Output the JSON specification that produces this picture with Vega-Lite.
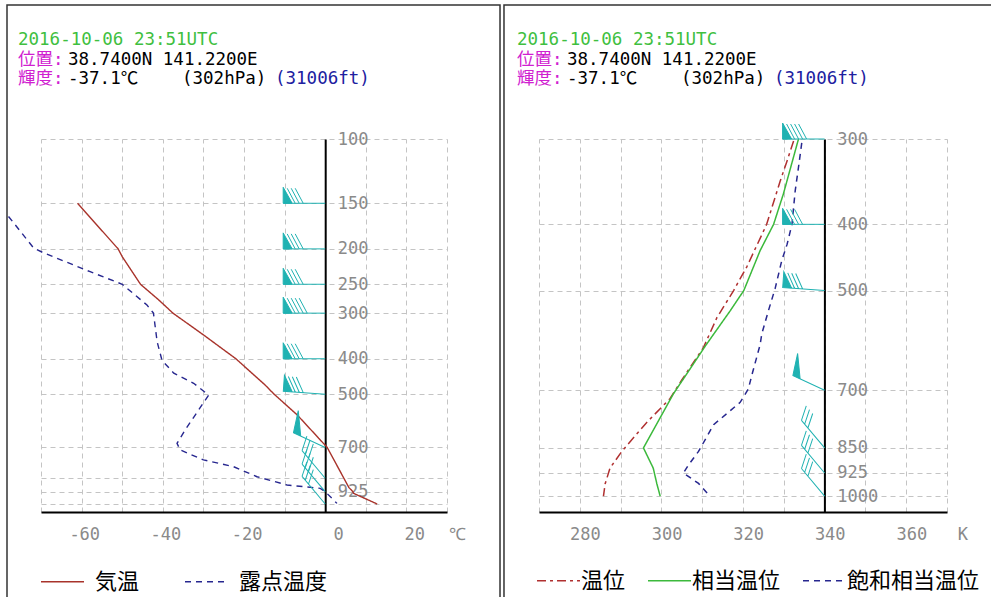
{
  "$schema": "https://vega.github.io/schema/vega-lite/v6.json",
  "width": 406,
  "height": 373,
  "autosize": {"type": "none"},
  "padding": {"left": 41, "top": 139, "right": 544, "bottom": 85},
  "background": "white",
  "config": {"view": {"stroke": null}},
  "datasets": {
    "frames": [{"panel": "L", "row": "all"}, {"panel": "R", "row": "all"}],
    "header": [
      {"panel": "L", "line": 1, "part": "time", "text": "2016-10-06 23:51UTC"},
      {"panel": "L", "line": 2, "part": "label", "text": "位置:"},
      {"panel": "L", "line": 2, "part": "value", "text": "38.7400N 141.2200E"},
      {"panel": "L", "line": 3, "part": "label", "text": "輝度:"},
      {"panel": "L", "line": 3, "part": "value", "text": "\u00a0-37.1℃"},
      {"panel": "L", "line": 3, "part": "pres", "text": "(302hPa)"},
      {"panel": "L", "line": 3, "part": "height", "text": "(31006ft)"},
      {"panel": "R", "line": 1, "part": "time", "text": "2016-10-06 23:51UTC"},
      {"panel": "R", "line": 2, "part": "label", "text": "位置:"},
      {"panel": "R", "line": 2, "part": "value", "text": "38.7400N 141.2200E"},
      {"panel": "R", "line": 3, "part": "label", "text": "輝度:"},
      {"panel": "R", "line": 3, "part": "value", "text": "\u00a0-37.1℃"},
      {"panel": "R", "line": 3, "part": "pres", "text": "(302hPa)"},
      {"panel": "R", "line": 3, "part": "height", "text": "(31006ft)"}
    ],
    "left": [
      {"series": "気温", "p": 150, "T": -61},
      {"series": "気温", "p": 200, "T": -51},
      {"series": "気温", "p": 210, "T": -50},
      {"series": "気温", "p": 250, "T": -45.5},
      {"series": "気温", "p": 276, "T": -41},
      {"series": "気温", "p": 300, "T": -37.5},
      {"series": "気温", "p": 344, "T": -30},
      {"series": "気温", "p": 400, "T": -22},
      {"series": "気温", "p": 472, "T": -14.8},
      {"series": "気温", "p": 500, "T": -12.6},
      {"series": "気温", "p": 570, "T": -6.9},
      {"series": "気温", "p": 700, "T": 0.5},
      {"series": "気温", "p": 850, "T": 4.6},
      {"series": "気温", "p": 900, "T": 5.8},
      {"series": "気温", "p": 925, "T": 6.8},
      {"series": "気温", "p": 935, "T": 7.0},
      {"series": "気温", "p": 1000, "T": 12.8},
      {"series": "露点温度", "p": 163, "T": -78},
      {"series": "露点温度", "p": 199, "T": -71.8},
      {"series": "露点温度", "p": 205, "T": -69.4},
      {"series": "露点温度", "p": 231, "T": -57.9},
      {"series": "露点温度", "p": 250, "T": -50},
      {"series": "露点温度", "p": 285, "T": -43.9},
      {"series": "露点温度", "p": 300, "T": -42.3},
      {"series": "露点温度", "p": 359, "T": -41.4},
      {"series": "露点温度", "p": 404, "T": -40.2},
      {"series": "露点温度", "p": 438, "T": -37.3},
      {"series": "露点温度", "p": 467, "T": -32.4},
      {"series": "露点温度", "p": 503, "T": -28.7},
      {"series": "露点温度", "p": 553, "T": -31.2},
      {"series": "露点温度", "p": 627, "T": -34.5},
      {"series": "露点温度", "p": 682, "T": -36.5},
      {"series": "露点温度", "p": 711, "T": -35.7},
      {"series": "露点温度", "p": 757, "T": -30},
      {"series": "露点温度", "p": 790, "T": -22.6},
      {"series": "露点温度", "p": 842, "T": -16.8},
      {"series": "露点温度", "p": 887, "T": -9.4},
      {"series": "露点温度", "p": 906, "T": -1.2},
      {"series": "露点温度", "p": 925, "T": 0},
      {"series": "露点温度", "p": 996, "T": 2.9}
    ],
    "right": [
      {"series": "温位", "p": 302, "K": 332.4},
      {"series": "温位", "p": 323, "K": 330.8},
      {"series": "温位", "p": 346, "K": 329.1},
      {"series": "温位", "p": 400, "K": 325.8},
      {"series": "温位", "p": 462, "K": 320.9},
      {"series": "温位", "p": 500, "K": 317.7},
      {"series": "温位", "p": 548, "K": 313.6},
      {"series": "温位", "p": 606, "K": 310.3},
      {"series": "温位", "p": 676, "K": 305.0},
      {"series": "温位", "p": 720, "K": 302.1},
      {"series": "温位", "p": 780, "K": 296.4},
      {"series": "温位", "p": 860, "K": 290.3},
      {"series": "温位", "p": 910, "K": 287.4},
      {"series": "温位", "p": 960, "K": 286.2},
      {"series": "温位", "p": 1000, "K": 285.8},
      {"series": "相当温位", "p": 300, "K": 333.6},
      {"series": "相当温位", "p": 361, "K": 329.9},
      {"series": "相当温位", "p": 400, "K": 327.5},
      {"series": "相当温位", "p": 437, "K": 324.2},
      {"series": "相当温位", "p": 500, "K": 320.2},
      {"series": "相当温位", "p": 536, "K": 316.8},
      {"series": "相当温位", "p": 600, "K": 311.0},
      {"series": "相当温位", "p": 709, "K": 302.9},
      {"series": "相当温位", "p": 850, "K": 295.6},
      {"series": "相当温位", "p": 910, "K": 298.0},
      {"series": "相当温位", "p": 960, "K": 298.9},
      {"series": "相当温位", "p": 1000, "K": 299.7},
      {"series": "飽和相当温位", "p": 304, "K": 334.4},
      {"series": "飽和相当温位", "p": 330, "K": 333.6},
      {"series": "飽和相当温位", "p": 357, "K": 332.8},
      {"series": "飽和相当温位", "p": 400, "K": 332.0},
      {"series": "飽和相当温位", "p": 428, "K": 330.8},
      {"series": "飽和相当温位", "p": 452, "K": 329.5},
      {"series": "飽和相当温位", "p": 496, "K": 327.9},
      {"series": "飽和相当温位", "p": 536, "K": 326.2},
      {"series": "飽和相当温位", "p": 579, "K": 324.6},
      {"series": "飽和相当温位", "p": 600, "K": 324.2},
      {"series": "飽和相当温位", "p": 664, "K": 322.2},
      {"series": "飽和相当温位", "p": 697, "K": 321.3},
      {"series": "飽和相当温位", "p": 729, "K": 319.3},
      {"series": "飽和相当温位", "p": 786, "K": 312.8},
      {"series": "飽和相当温位", "p": 860, "K": 309.1},
      {"series": "飽和相当温位", "p": 901, "K": 306.6},
      {"series": "飽和相当温位", "p": 925, "K": 305.4},
      {"series": "飽和相当温位", "p": 958, "K": 309.1},
      {"series": "飽和相当温位", "p": 1000, "K": 311.9}
    ],
    "wind": [
      {"p": 150, "kt": 80, "dir": 270},
      {"p": 200, "kt": 80, "dir": 270},
      {"p": 250, "kt": 80, "dir": 270},
      {"p": 300, "kt": 90, "dir": 270},
      {"p": 400, "kt": 80, "dir": 270},
      {"p": 500, "kt": 80, "dir": 274},
      {"p": 700, "kt": 50, "dir": 295},
      {"p": 850, "kt": 30, "dir": 320},
      {"p": 925, "kt": 30, "dir": 320},
      {"p": 1000, "kt": 30, "dir": 320}
    ]
  },
  "layer": [
    {
      "data": {"name": "frames"},
      "mark": {"type": "rect", "filled": false, "stroke": "#333333", "strokeWidth": 1.5},
      "encoding": {
        "x": {"field": "panel", "type": "nominal", "scale": {"type": "band", "domain": ["L", "R"], "range": [-34, 956], "paddingInner": 0.008, "paddingOuter": 0}, "axis": null},
        "y": {"field": "row", "type": "nominal", "scale": {"type": "band", "domain": ["all"], "range": [-134, 481], "paddingInner": 0, "paddingOuter": 0}, "axis": null}
      }
    },
    {
      "layer": [
        {
          "data": {"name": "left"},
          "mark": {"type": "line", "strokeWidth": 1.4},
          "encoding": {
            "x": {
              "field": "T", "type": "quantitative",
              "scale": {"domain": [-70, 30], "nice": false, "zero": false},
              "axis": {
                "orient": "bottom", "values": [-70, -60, -50, -40, -30, -20, -10, 0, 10, 20, 30],
                "title": null, "grid": true, "gridColor": "#c4c4c4", "gridDash": [5, 4], "gridWidth": 1,
                "domain": true, "domainColor": "#000000", "domainWidth": 2,
                "ticks": false, "tickSize": 0,
                "labelExpr": "datum.value == 30 ? '℃' : (datum.value % 20 == 0 ? toString(datum.value) : '')",
                "labelAlign": "right", "labelOffset": 18, "labelPadding": 14, "labelBaseline": "top",
                "labelFont": "DejaVu Sans Mono", "labelFontSize": 17, "labelColor": "#8a8a8a",
                "labelFlush": false, "labelOverlap": false, "labelBound": false
              }
            },
            "y": {
              "field": "p", "type": "quantitative",
              "scale": {"type": "log", "domain": [100, 1051.7], "reverse": true, "nice": false},
              "axis": {
                "orient": "left", "offset": -284.2, "values": [100, 150, 200, 250, 300, 400, 500, 700, 850, 925, 1000],
                "title": null, "grid": true, "gridColor": "#c4c4c4", "gridDash": [5, 4], "gridWidth": 1,
                "domain": true, "domainColor": "#000000", "domainWidth": 2,
                "ticks": false, "tickSize": 0,
                "labelExpr": "datum.value == 850 || datum.value == 1000 ? '' : toString(datum.value)",
                "labelAlign": "left", "labelPadding": -12, "labelBaseline": "middle",
                "labelFont": "DejaVu Sans Mono", "labelFontSize": 17, "labelColor": "#8a8a8a",
                "labelFlush": false, "labelOverlap": false, "labelBound": false
              }
            },
            "color": {
              "field": "series", "type": "nominal",
              "scale": {"domain": ["気温", "露点温度"], "range": ["#a8332b", "#27278f"]},
              "legend": {"title": null, "orient": "none", "legendX": -1, "legendY": 420, "direction": "horizontal", "symbolType": "stroke", "symbolSize": 1849, "symbolStrokeWidth": 1.5, "labelFont": "Noto Sans CJK JP", "labelFontSize": 22, "labelColor": "#000000", "labelOffset": 10, "columnPadding": 42, "labelLimit": 300}
            },
            "strokeDash": {
              "field": "series", "type": "nominal",
              "scale": {"domain": ["気温", "露点温度"], "range": [[1, 0], [6, 5]]},
              "legend": {"title": null, "orient": "none", "legendX": -1, "legendY": 420, "direction": "horizontal", "symbolType": "stroke", "symbolSize": 1849, "symbolStrokeWidth": 1.5, "labelFont": "Noto Sans CJK JP", "labelFontSize": 22, "labelColor": "#000000", "labelOffset": 10, "columnPadding": 42, "labelLimit": 300}
            },
            "order": {"field": "p", "type": "quantitative"}
          }
        },
        {
          "data": {"name": "wind"},
          "mark": {"type": "point", "size": 4, "filled": true, "fill": "#20b2b2", "stroke": "#20b2b2", "strokeWidth": 1, "opacity": 1},
          "encoding": {
            "x": {"datum": 0, "type": "quantitative"},
            "y": {"field": "p", "type": "quantitative"},
            "shape": {
              "field": "kt", "type": "ordinal",
              "scale": {"domain": [30, 50, 80, 90], "range": [
                "M0,0L-36,0M-36,0L-44,-13M-31,0L-39,-13M-26,0L-34,-13",
                "M0,0L-35,0M-35,0L-40,-22L-27,0Z",
                "M0,0L-42,0M-42,0L-42,-16L-33,0ZM-38,-15L-30,0M-34,-15L-26,0M-30,-15L-22,0",
                "M0,0L-42,0M-42,0L-42,-16L-33,0ZM-38,-15L-30,0M-34,-15L-26,0M-30,-15L-22,0M-26,-15L-18,0"
              ]},
              "legend": null
            },
            "angle": {"field": "dir", "type": "quantitative", "scale": {"domain": [270, 360], "range": [0, 90]}}
          }
        }
      ]
    },
    {
      "layer": [
        {
          "data": {"name": "right"},
          "mark": {"type": "line", "strokeWidth": 1.5},
          "encoding": {
            "x": {
              "field": "K", "type": "quantitative",
              "scale": {"domain": [270, 370], "range": [498, 906], "nice": false, "zero": false},
              "axis": {
                "orient": "bottom", "values": [270, 280, 290, 300, 310, 320, 330, 340, 350, 360, 370],
                "title": null, "grid": true, "gridColor": "#c4c4c4", "gridDash": [5, 4], "gridWidth": 1,
                "domain": true, "domainColor": "#000000", "domainWidth": 2,
                "ticks": false, "tickSize": 0,
                "labelExpr": "datum.value == 370 ? 'K\u00a0' : (datum.value % 20 == 0 ? toString(datum.value) : '')",
                "labelAlign": "right", "labelOffset": 20.5, "labelPadding": 14, "labelBaseline": "top",
                "labelFont": "DejaVu Sans Mono", "labelFontSize": 17, "labelColor": "#8a8a8a",
                "labelFlush": false, "labelOverlap": false, "labelBound": false
              }
            },
            "y": {
              "field": "p", "type": "quantitative",
              "scale": {"type": "log", "domain": [300, 1055], "reverse": true, "nice": false},
              "axis": {
                "orient": "left", "offset": -783.4, "values": [300, 400, 500, 700, 850, 925, 1000],
                "title": null, "grid": true, "gridColor": "#c4c4c4", "gridDash": [5, 4], "gridWidth": 1,
                "domain": true, "domainColor": "#000000", "domainWidth": 2,
                "ticks": false, "tickSize": 0,
                "labelExpr": "toString(datum.value)",
                "labelAlign": "left", "labelPadding": -12.3, "labelBaseline": "middle",
                "labelFont": "DejaVu Sans Mono", "labelFontSize": 17, "labelColor": "#8a8a8a",
                "labelFlush": false, "labelOverlap": false, "labelBound": false
              }
            },
            "color": {
              "field": "series", "type": "nominal",
              "scale": {"domain": ["温位", "相当温位", "飽和相当温位"], "range": ["#b03030", "#3cb93c", "#27278f"]},
              "legend": {"title": null, "orient": "none", "legendX": 495, "legendY": 419, "direction": "horizontal", "symbolType": "stroke", "symbolSize": 1849, "symbolStrokeWidth": 1.5, "labelFont": "Noto Sans CJK JP", "labelFontSize": 22, "labelColor": "#000000", "labelOffset": 0, "columnPadding": 19, "labelLimit": 300}
            },
            "strokeDash": {
              "field": "series", "type": "nominal",
              "scale": {"domain": ["温位", "相当温位", "飽和相当温位"], "range": [[9, 4, 3, 4], [1, 0], [6, 5]]},
              "legend": {"title": null, "orient": "none", "legendX": 495, "legendY": 419, "direction": "horizontal", "symbolType": "stroke", "symbolSize": 1849, "symbolStrokeWidth": 1.5, "labelFont": "Noto Sans CJK JP", "labelFontSize": 22, "labelColor": "#000000", "labelOffset": 0, "columnPadding": 19, "labelLimit": 300}
            },
            "order": {"field": "p", "type": "quantitative"}
          }
        },
        {
          "data": {"name": "wind"},
          "transform": [{"filter": "datum.p >= 300"}],
          "mark": {"type": "point", "size": 4, "filled": true, "fill": "#20b2b2", "stroke": "#20b2b2", "strokeWidth": 1, "opacity": 1},
          "encoding": {
            "x": {"datum": 340, "type": "quantitative"},
            "y": {"field": "p", "type": "quantitative"},
            "shape": {
              "field": "kt", "type": "ordinal",
              "scale": {"domain": [30, 50, 80, 90], "range": [
                "M0,0L-36,0M-36,0L-44,-13M-31,0L-39,-13M-26,0L-34,-13",
                "M0,0L-35,0M-35,0L-40,-22L-27,0Z",
                "M0,0L-42,0M-42,0L-42,-16L-33,0ZM-38,-15L-30,0M-34,-15L-26,0M-30,-15L-22,0",
                "M0,0L-42,0M-42,0L-42,-16L-33,0ZM-38,-15L-30,0M-34,-15L-26,0M-30,-15L-22,0M-26,-15L-18,0"
              ]},
              "legend": null
            },
            "angle": {"field": "dir", "type": "quantitative", "scale": {"domain": [270, 360], "range": [0, 90]}}
          }
        }
      ]
    },
    {
      "data": {"name": "header"},
      "encoding": {
        "x": {"field": "panel", "type": "nominal", "scale": {"type": "point", "domain": ["L", "R"], "range": [-23, 476], "padding": 0}, "axis": null},
        "y": {"field": "line", "type": "ordinal", "scale": {"type": "point", "domain": [1, 2, 3], "range": [-99, -60], "padding": 0}, "axis": null},
        "text": {"field": "text"},
        "color": {"field": "part", "type": "nominal", "scale": {"domain": ["time", "label", "value", "pres", "height"], "range": ["#3fbf3f", "#d020d0", "#000000", "#000000", "#2020a0"]}, "legend": null}
      },
      "layer": [
        {
          "transform": [{"filter": "datum.part == 'time' || datum.part == 'label'"}],
          "mark": {"type": "text", "align": "left", "baseline": "middle", "font": "DejaVu Sans Mono, Noto Sans CJK JP", "fontSize": 17.5}
        },
        {
          "transform": [{"filter": "datum.part == 'value'"}],
          "mark": {"type": "text", "align": "left", "baseline": "middle", "dx": 50, "font": "DejaVu Sans Mono, Noto Sans CJK JP", "fontSize": 17.5}
        },
        {
          "transform": [{"filter": "datum.part == 'pres'"}],
          "mark": {"type": "text", "align": "left", "baseline": "middle", "dx": 164, "font": "DejaVu Sans Mono, Noto Sans CJK JP", "fontSize": 17.5}
        },
        {
          "transform": [{"filter": "datum.part == 'height'"}],
          "mark": {"type": "text", "align": "left", "baseline": "middle", "dx": 257, "font": "DejaVu Sans Mono, Noto Sans CJK JP", "fontSize": 17.5}
        }
      ]
    }
  ],
  "resolve": {
    "scale": {"x": "independent", "y": "independent", "color": "independent", "strokeDash": "independent", "shape": "independent", "angle": "independent"},
    "axis": {"x": "independent", "y": "independent"},
    "legend": {"color": "independent", "strokeDash": "independent"}
  }
}
